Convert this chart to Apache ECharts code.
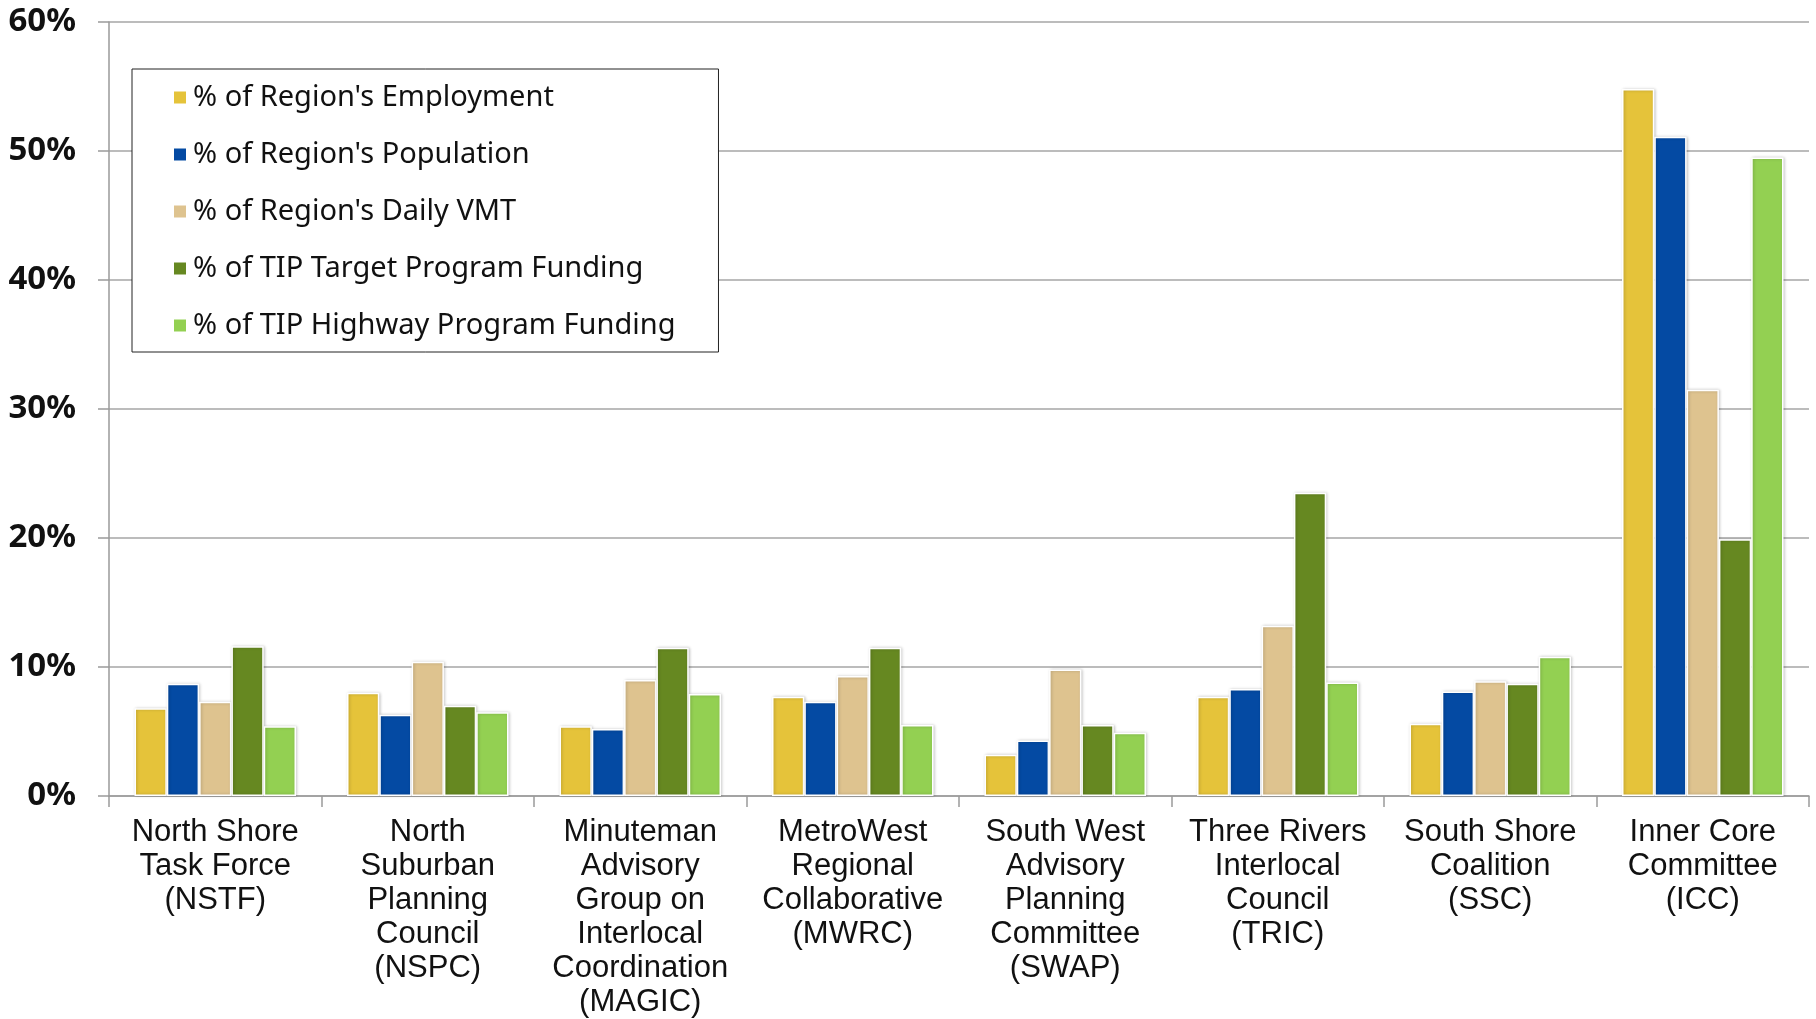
<!DOCTYPE html>
<html>
<head>
<meta charset="utf-8">
<title>Regional shares</title>
<script src="https://cdn.jsdelivr.net/npm/echarts@6/dist/echarts.min.js"></script>
<style>
  html, body { margin: 0; padding: 0; background: #fff; }
  #chart { width: 1816px; height: 1019px; }
</style>
</head>
<body>
<div id="chart"></div>
<script>
var regions = [
    'North Shore\nTask Force\n(NSTF)',
    'North\nSuburban\nPlanning\nCouncil\n(NSPC)',
    'Minuteman\nAdvisory\nGroup on\nInterlocal\nCoordination\n(MAGIC)',
    'MetroWest\nRegional\nCollaborative\n(MWRC)',
    'South West\nAdvisory\nPlanning\nCommittee\n(SWAP)',
    'Three Rivers\nInterlocal\nCouncil\n(TRIC)',
    'South Shore\nCoalition\n(SSC)',
    'Inner Core\nCommittee\n(ICC)'
];
var seriesNames = [
    "% of Region's Employment",
    "% of Region's Population",
    "% of Region's Daily VMT",
    '% of TIP Target Program Funding',
    '% of TIP Highway Program Funding'
];
// values in percent
var employment = [6.8, 8.0, 5.4, 7.7, 3.2, 7.7, 5.6, 54.8];
var population = [8.7, 6.3, 5.2, 7.3, 4.3, 8.3, 8.1, 51.1];
var dailyVmt = [7.3, 10.4, 9.0, 9.3, 9.8, 13.2, 8.9, 31.5];
var targetFunding = [11.6, 7.0, 11.5, 11.5, 5.5, 23.5, 8.7, 19.9];
var highwayFunding = [5.4, 6.5, 7.9, 5.5, 4.9, 8.8, 10.8, 49.5];
var yTicks = [0, 10, 20, 30, 40, 50, 60];

var colors = ['#E5C33A', '#044AA3', '#DEC38F', '#668821', '#93D052'];
var allData = [employment, population, dailyVmt, targetFunding, highwayFunding];

var chart = echarts.init(document.getElementById('chart'));

var series = [];
for (var i = 0; i < seriesNames.length; i++) {
    series.push({
        name: seriesNames[i],
        type: 'bar',
        data: allData[i],
        barGap: '0%',
        barCategoryGap: '24%',
        itemStyle: {
            color: colors[i],
            borderColor: '#fff',
            borderWidth: 1.5,
            shadowColor: 'rgba(0,0,0,0.22)',
            shadowBlur: 3,
            shadowOffsetX: 1,
            shadowOffsetY: 0
        }
    });
}

var option = {
    animation: false,
    backgroundColor: '#fff',
    grid: {
        left: 109,
        right: 7,
        top: 22,
        bottom: 223
    },
    legend: {
        data: seriesNames,
        orient: 'vertical',
        left: 132,
        top: 69,
        padding: [14, 43, 12, 40],
        itemGap: 28,
        itemWidth: 14,
        itemHeight: 14,
        icon: 'rect',
        backgroundColor: '#fff',
        borderColor: '#222',
        borderWidth: 1,
        borderRadius: 0,
        textStyle: {
            fontFamily: 'Noto Sans',
            fontSize: 29,
            lineHeight: 29,
            color: '#111',
            padding: [0, 0, 0, 1]
        }
    },
    xAxis: {
        type: 'category',
        data: regions,
        axisLine: { show: true, lineStyle: { color: '#9a9a9a', width: 1.5 } },
        axisTick: { show: true, length: 11, interval: 0, lineStyle: { color: '#9a9a9a', width: 1.5 } },
        axisLabel: {
            interval: 0,
            margin: 19,
            fontFamily: 'Liberation Sans',
            fontSize: 31,
            lineHeight: 34,
            color: '#111'
        }
    },
    yAxis: {
        type: 'value',
        min: yTicks[0],
        max: yTicks[yTicks.length - 1],
        interval: 10,
        axisLine: { show: true, lineStyle: { color: '#9a9a9a', width: 1.5 } },
        axisTick: { show: true, length: 11, lineStyle: { color: '#9a9a9a', width: 1.5 } },
        splitLine: { show: true, lineStyle: { color: '#a6a6a6', width: 1.5 } },
        axisLabel: {
            margin: 33,
            fontFamily: 'Noto Sans',
            fontWeight: 'bold',
            fontSize: 33,
            color: '#111',
            formatter: '{value}%'
        }
    },
    series: series
};
chart.setOption(option);
</script>
</body>
</html>
